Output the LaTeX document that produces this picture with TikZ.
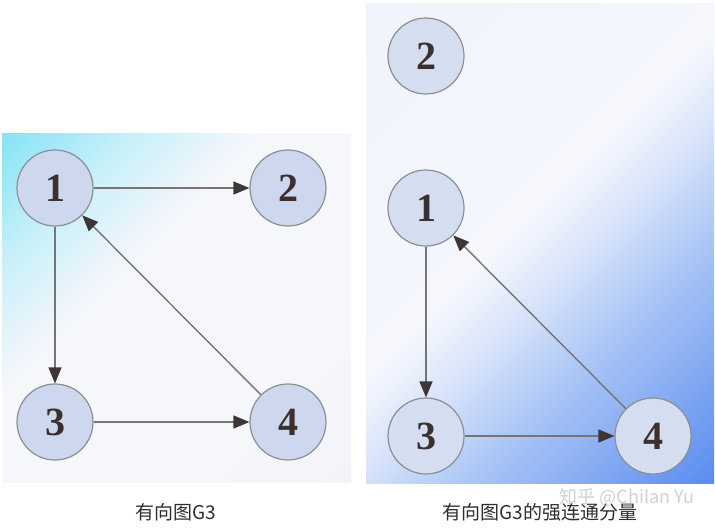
\documentclass[tikz,border=0pt]{standalone}
\usepackage{fontspec}
\setmainfont{Liberation Serif}
\newfontfamily\cjk{Noto Sans CJK SC}
\usetikzlibrary{arrows.meta}
\definecolor{nodefill}{HTML}{CDD8EE}
\definecolor{nodefillr}{HTML}{D5DEF1}
\definecolor{nodeedge}{HTML}{8C8E96}
\definecolor{digitcol}{HTML}{3B302D}
\definecolor{linecol}{HTML}{787474}
\definecolor{tipcol}{HTML}{3E3636}
\definecolor{capcol}{HTML}{2E2E2E}
\definecolor{lcyan}{HTML}{8CE4F6}
\definecolor{lcyanb}{HTML}{C8F0F9}
\definecolor{lwhite}{HTML}{F6F7FB}
\definecolor{lwhiteb}{HTML}{F2F4F8}
\definecolor{rtop}{HTML}{F1F3FC}
\definecolor{rmid}{HTML}{F5F7FD}
\definecolor{rlight}{HTML}{DAE5FA}
\definecolor{rmidblue}{HTML}{A8C4F5}
\definecolor{rblue}{HTML}{5A8CF0}
\pgfdeclarehorizontalshading{lpanel}{100bp}{color(0bp)=(lcyan); color(16bp)=(lcyan); color(28bp)=(lcyanb); color(41bp)=(lwhite); color(70bp)=(lwhite); color(85.36bp)=(lwhiteb); color(100bp)=(lwhiteb)}
\pgfdeclarehorizontalshading{rpanel}{100bp}{color(0bp)=(rtop); color(14.64bp)=(rtop); color(47bp)=(rmid); color(54bp)=(rlight); color(65bp)=(rmidblue); color(85.36bp)=(rblue); color(100bp)=(rblue)}
\begin{document}
\begin{tikzpicture}[x=1pt,y=-1pt,
  vert/.style={circle, draw=nodeedge, line width=1.2pt, fill=nodefill, minimum size=76pt, inner sep=0pt,
    font=\fontsize{40}{40}\selectfont\bfseries, text=digitcol},
  vertr/.style={vert, fill=nodefillr},
  edge/.style={draw=linecol, line width=1.4pt, -{Triangle[length=16pt,width=13pt,color=tipcol]}},
  caption/.style={font=\cjk\fontsize{19}{19}\selectfont, text=capcol}]
\useasboundingbox[fill=white] (0,0) rectangle (715,531);
% panels
\shade[shading=lpanel, shading angle=-45] (2,133) rectangle (351,482);
\shade[shading=rpanel, shading angle=-45] (366,3) rectangle (714,483);
% left graph
\node[vert] (l1) at (55,188) {1};
\node[vert] (l2) at (288,188) {2};
\node[vert] (l3) at (55,422) {3};
\node[vert] (l4) at (288,422) {4};
\draw[edge] (l1) -- (l2);
\draw[edge] (l1) -- (l3);
\draw[edge] (l3) -- (l4);
\draw[edge] (l4) -- (l1);
% right graph
\node[vertr] (r2) at (426,56) {2};
\node[vertr] (r1) at (426,208) {1};
\node[vertr] (r3) at (426,436) {3};
\node[vertr] (r4) at (653,436) {4};
\draw[edge] (r1) -- (r3);
\draw[edge] (r3) -- (r4);
\draw[edge] (r4) -- (r1);
% captions
\node[caption] (c1) at (176,512) {有向图G3};
\node[caption] (c2) at (540,512) {有向图G3的强连通分量};
\node[font=\cjk\fontsize{18}{18}\selectfont, text=gray!45, opacity=0.8] (wm) at (627,497) {知乎 @Chilan Yu};
\end{tikzpicture}
\end{document}
